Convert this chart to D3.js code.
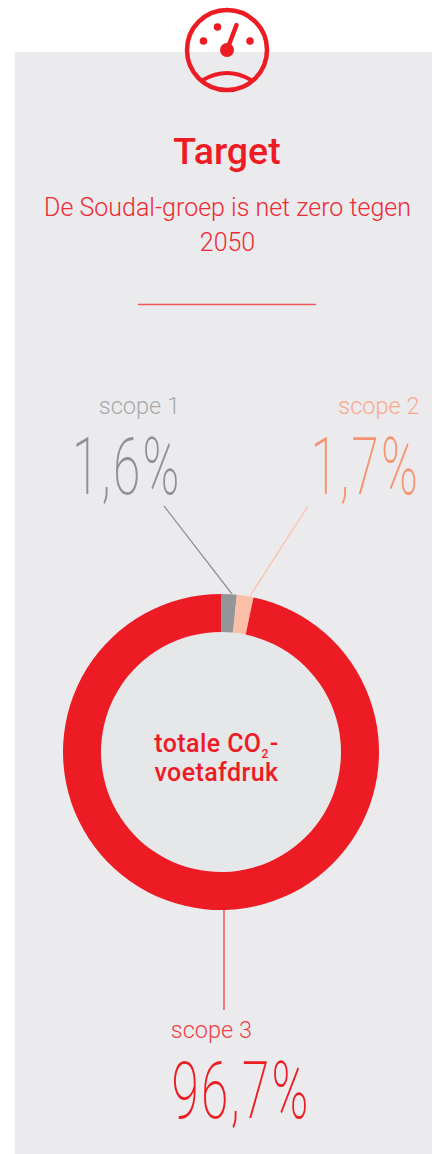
<!DOCTYPE html>
<html>
<head>
<meta charset="utf-8">
<script src="https://cdn.jsdelivr.net/npm/d3@7"></script>
<style>
  html, body { margin: 0; padding: 0; background: #fff; }
  svg { display: block; }
  text { font-family: Roboto, sans-serif; }
</style>
</head>
<body>
<svg width="432" height="1154"></svg>
<script>
'use strict'

const scopes = ['scope 1', 'scope 2', 'scope 3']
const shares = [1.6, 1.7, 96.7]
const shareLabels = ['1,6%', '1,7%', '96,7%']
const sliceColors = ['#939598', '#fbbfa8', '#ed1c24']
const scopeColors = ['#a7a9ac', '#f9a88c', '#ef3e45']
const figureColors = ['#8f9194', '#f79372', '#ed1c24']

const red = '#ed1c24'
const svg = d3.select('svg')

svg.append('rect').attr('x', 15).attr('y', 52).attr('width', 417).attr('height', 1102).style('fill', '#ebebee')

// gauge icon
const gauge = svg.append('g').attr('transform', 'translate(227,50)')
  .style('fill', 'none').style('stroke', red).style('stroke-width', 4.5)
gauge.append('circle').attr('r', 40)
gauge.append('path').attr('d', 'M-24,30 Q0,16 24,30').style('stroke-width', 4)
gauge.append('line').attr('x1', 0).attr('y1', 0).attr('x2', 9.5).attr('y2', -25)
  .style('stroke-width', 4.5).style('stroke-linecap', 'round')
gauge.append('circle').attr('r', 7).style('fill', red).style('stroke', 'none')
gauge.selectAll('circle.dot').data([[-23.5, -9], [-9.5, -23], [23, -9]])
  .enter()
  .append('circle')
  .classed('dot', true)
  .attr('r', 3.8)
  .attr('cx', (d) => d[0])
  .attr('cy', (d) => d[1])
  .style('fill', red)
  .style('stroke', 'none')

// heading
svg.append('text').attr('x', 227).attr('y', 164).attr('text-anchor', 'middle')
  .style('font-size', '37.5px').style('font-weight', 500).style('fill', red).text('Target')
svg.append('text').attr('x', 227.5).attr('y', 216).attr('text-anchor', 'middle')
  .style('font-size', '25px').style('font-weight', 300).style('fill', '#ee2a32')
  .text('De Soudal-groep is net zero tegen')
svg.append('text').attr('x', 227.5).attr('y', 251).attr('text-anchor', 'middle')
  .style('font-size', '25px').style('font-weight', 300).style('fill', '#ee2a32').text('2050')
svg.append('line').attr('x1', 138).attr('x2', 316).attr('y1', 304.5).attr('y2', 304.5)
  .style('stroke', '#f0555c').style('stroke-width', 1.5)

// donut
const cx = 221
const cy = 752
const pie = d3.pie().sort(null)
const arc = d3.arc().innerRadius(120).outerRadius(158)
const donut = svg.append('g').attr('transform', `translate(${cx},${cy})`)
donut.append('circle').attr('r', 120).style('fill', '#e6e7e8')
donut.selectAll('path.slice').data(pie(shares))
  .enter()
  .append('path')
  .classed('slice', true)
  .attr('d', arc)
  .style('fill', (d, i) => sliceColors[i])

// leader lines
const leaders = [
  { x1: 164, y1: 506, x2: 232, y2: 594, color: '#939598' },
  { x1: 308, y1: 506, x2: 250, y2: 596, color: '#fbc4ae' },
  { x1: 224, y1: 910, x2: 224, y2: 1010, color: '#ef3e45' }
]
svg.selectAll('line.leader').data(leaders)
  .enter()
  .append('line')
  .classed('leader', true)
  .attr('x1', (d) => d.x1)
  .attr('y1', (d) => d.y1)
  .attr('x2', (d) => d.x2)
  .attr('y2', (d) => d.y2)
  .style('stroke', (d) => d.color)
  .style('stroke-width', 1.3)

// centre label
const centre = svg.append('text').attr('text-anchor', 'middle')
  .style('font-size', '25px').style('font-weight', 500).style('fill', red)
  .style('letter-spacing', '0.4px')
const line1 = centre.append('tspan').attr('x', 216.5).attr('y', 752)
line1.append('tspan').text('totale CO')
line1.append('tspan').attr('dy', 6).style('font-size', '12px').text('2')
line1.append('tspan').attr('dy', -6).attr('dx', 1).text('-')
centre.append('tspan').attr('x', 216.5).attr('y', 781).text('voetafdruk')

// scope labels, right aligned on the big figures
const scopeAnchors = [
  { x: 180, y: 414, numX: 181.5, numY: 494 },
  { x: 419.5, y: 414, numX: 420, numY: 494 },
  { x: 252, y: 1038, numX: 310.5, numY: 1118 }
]
scopes.forEach((s, i) => {
  const a = scopeAnchors[i]
  svg.append('text').attr('x', a.x).attr('y', a.y).attr('text-anchor', 'end')
    .style('font-size', '23.5px').style('font-weight', 300).style('fill', scopeColors[i]).text(s)
  svg.append('text').attr('text-anchor', 'end')
    .attr('transform', `translate(${a.numX},${a.numY}) scale(0.62,1)`)
    .style('font-size', '80px').style('font-weight', 200).style('letter-spacing', '3.5px')
    .style('fill', figureColors[i])
    .text(shareLabels[i])
})
</script>
</body>
</html>
